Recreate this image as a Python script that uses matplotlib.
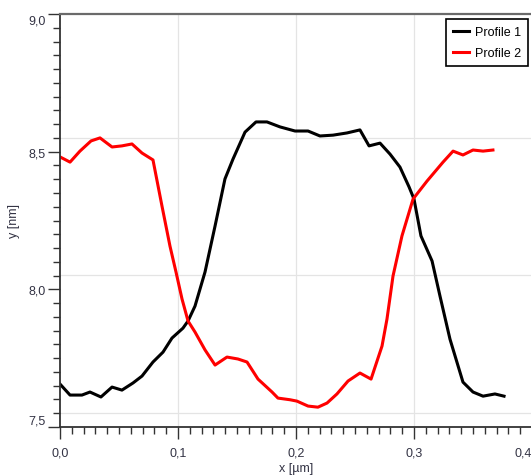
import numpy as np
import matplotlib.pyplot as plt
from matplotlib.ticker import MultipleLocator, FuncFormatter
from matplotlib.transforms import ScaledTranslation

plt.rcParams['font.family'] = ['Liberation Sans', 'DejaVu Sans']

# profile 1 (black)
x1 = [0.0000, 0.0085, 0.0186, 0.0254, 0.0347, 0.0441, 0.0525, 0.0619, 0.0695, 0.0788,
      0.0873, 0.0949, 0.1042, 0.1085, 0.1144, 0.1229, 0.1314, 0.1398, 0.1466, 0.1568,
      0.1661, 0.1754, 0.1864, 0.1992, 0.2102, 0.2203, 0.2314, 0.2432, 0.2542, 0.2619,
      0.2712, 0.2797, 0.2881, 0.2958, 0.3000, 0.3059, 0.3153, 0.3220, 0.3305, 0.3415,
      0.3500, 0.3585, 0.3686, 0.3763]
y1 = [7.656, 7.616, 7.616, 7.627, 7.609, 7.645, 7.634, 7.660, 7.685, 7.736,
      7.772, 7.823, 7.859, 7.885, 7.939, 8.063, 8.230, 8.401, 8.473, 8.571,
      8.608, 8.608, 8.590, 8.575, 8.575, 8.557, 8.560, 8.568, 8.579, 8.521,
      8.531, 8.491, 8.444, 8.372, 8.328, 8.194, 8.103, 7.976, 7.819, 7.663,
      7.627, 7.612, 7.620, 7.612]

# profile 2 (red)
x2 = [0.0000, 0.0085, 0.0169, 0.0263, 0.0339, 0.0441, 0.0525, 0.0610, 0.0695, 0.0788,
      0.0864, 0.0932, 0.0983, 0.1034, 0.1085, 0.1144, 0.1229, 0.1314, 0.1415, 0.1508,
      0.1585, 0.1678, 0.1797, 0.1847, 0.1949, 0.2008, 0.2102, 0.2186, 0.2263, 0.2347,
      0.2441, 0.2542, 0.2636, 0.2729, 0.2771, 0.2822, 0.2898, 0.2992, 0.3110, 0.3246,
      0.3331, 0.3415, 0.3500, 0.3585, 0.3669]
y2 = [8.481, 8.462, 8.502, 8.539, 8.550, 8.517, 8.521, 8.528, 8.495, 8.470,
      8.303, 8.157, 8.063, 7.965, 7.885, 7.845, 7.780, 7.725, 7.754, 7.747,
      7.736, 7.674, 7.627, 7.605, 7.599, 7.594, 7.576, 7.572, 7.587, 7.620,
      7.667, 7.696, 7.674, 7.794, 7.892, 8.048, 8.194, 8.328, 8.393, 8.462,
      8.502, 8.488, 8.506, 8.502, 8.506]

x_ticks = [0.0, 0.1, 0.2, 0.3, 0.4]
y_ticks = [7.5, 8.0, 8.5, 9.0]

fig = plt.figure(figsize=(5.31, 4.77), dpi=100)
ax = fig.add_axes([60 / 531, 1 - 428 / 477, 472 / 531, 413 / 477])

grid_c = '#e4e4e4'
for xv in x_ticks[1:-1]:
    ax.axvline(xv, color=grid_c, lw=0.9, zorder=0)
# horizontal grid sits a little above the tick positions
shift = ScaledTranslation(0, 0.14, fig.dpi_scale_trans)
for yv in y_ticks[:-1]:
    ax.plot([0, 1], [yv, yv], color=grid_c, lw=0.9, zorder=0,
            transform=ax.get_yaxis_transform() + shift)

ax.plot(x1, y1, color='black', lw=2.2, label='Profile 1', solid_joinstyle='round')
ax.plot(x2, y2, color='#ff0000', lw=2.2, label='Profile 2', solid_joinstyle='round')

ax.set_xlim(0, 0.4)
ax.set_ylim(7.5, 9.0)
ax.set_xticks(x_ticks)
ax.set_yticks(y_ticks)
ax.xaxis.set_minor_locator(MultipleLocator(0.01))
ax.yaxis.set_minor_locator(MultipleLocator(0.05))
comma = FuncFormatter(lambda v, pos: f'{v:.1f}'.replace('.', ','))
ax.xaxis.set_major_formatter(comma)
ax.yaxis.set_major_formatter(comma)

lab_c = '#333344'
ax.tick_params(which='major', length=8.5, width=1.0, color='#333333',
               labelsize=9, labelcolor=lab_c)
ax.tick_params(which='minor', length=5, width=1.0, color='#333333')
ax.tick_params(axis='x', which='major', pad=5.5)
ax.tick_params(axis='y', which='major', pad=2)

xl = ax.get_xticklabels()
xl[-1].set_horizontalalignment('right')
yl = ax.get_yticklabels()
yl[0].set_verticalalignment('bottom')
yl[-1].set_verticalalignment('top')

ax.spines['right'].set_visible(False)
ax.spines['top'].set_color('#6a6a6a')
ax.spines['top'].set_linewidth(1.6)
ax.spines['left'].set_color('#333333')
ax.spines['left'].set_linewidth(1.3)
ax.spines['bottom'].set_color('#333333')
ax.spines['bottom'].set_linewidth(1.3)

ax.set_xlabel('x [µm]', fontsize=9, color=lab_c, labelpad=2.5)
ax.set_ylabel('y [nm]', fontsize=9, color=lab_c, labelpad=6)

leg = ax.legend(loc='upper right', bbox_to_anchor=(1 - 4 / 472, 1 - 5 / 413),
                borderaxespad=0, fancybox=False, framealpha=1, fontsize=9,
                handlelength=1.25, handletextpad=0.5, borderpad=0.55,
                labelspacing=0.75)
leg.get_frame().set_edgecolor('black')
leg.get_frame().set_linewidth(1.2)

fig.savefig('out.png', dpi=100)
